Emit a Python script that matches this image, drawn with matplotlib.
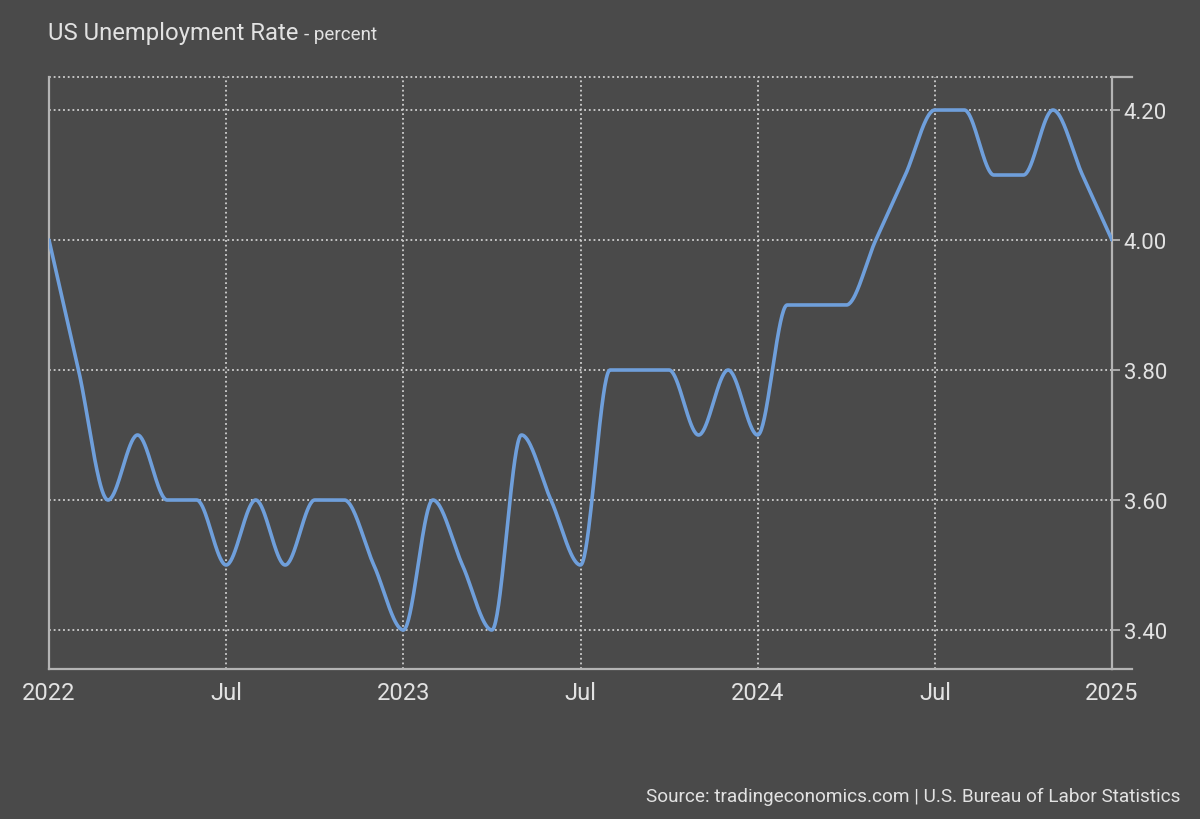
#US unemployment rate, monthly, smoothed line on dark background

import numpy as np
import matplotlib
matplotlib.use('Agg')
import matplotlib.pyplot as plt

# monthly values, Jan 2022 .. Jan 2025
rate_2022 = [4.0, 3.8, 3.6, 3.7, 3.6, 3.6, 3.5, 3.6, 3.5, 3.6, 3.6, 3.5]
rate_2023 = [3.4, 3.6, 3.5, 3.4, 3.7, 3.6, 3.5, 3.8, 3.8, 3.8, 3.7, 3.8]
rate_2024 = [3.7, 3.9, 3.9, 3.9, 4.0, 4.1, 4.2, 4.2, 4.1, 4.1, 4.2, 4.1]
rate_2025 = [4.0]
tick_months = [0, 6, 12, 18, 24, 30, 36]
tick_labels = ['2022', 'Jul', '2023', 'Jul', '2024', 'Jul', '2025']
y_ticks = [3.4, 3.6, 3.8, 4.0, 4.2]

rate = np.array(rate_2022 + rate_2023 + rate_2024 + rate_2025)
month = np.arange(len(rate), dtype=float)


#monotone cubic curve through the points (same idea as d3 curveMonotoneX)
def monotone_curve(x, y, n=40):
    h = np.diff(x)
    s = np.diff(y) / h
    m = np.zeros_like(y)
    for i in range(1, len(y) - 1):
        p = (s[i-1] * h[i] + s[i] * h[i-1]) / (h[i-1] + h[i])
        m[i] = (np.sign(s[i-1]) + np.sign(s[i])) * min(abs(s[i-1]), abs(s[i]), 0.5 * abs(p))
    m[0] = (3 * s[0] - m[1]) / 2
    m[-1] = (3 * s[-1] - m[-2]) / 2
    xs, ys = [], []
    for i in range(len(x) - 1):
        t = np.linspace(0, 1, n, endpoint=False)
        h00 = 2*t**3 - 3*t**2 + 1
        h10 = t**3 - 2*t**2 + t
        h01 = -2*t**3 + 3*t**2
        h11 = t**3 - t**2
        xs.append(x[i] + t * h[i])
        ys.append(h00*y[i] + h10*h[i]*m[i] + h01*y[i+1] + h11*h[i]*m[i+1])
    xs.append([x[-1]])
    ys.append([y[-1]])
    return np.concatenate(xs), np.concatenate(ys)


bg = '#4a4a4a'
txt = '#e2e2e2'
axis_col = '#b4b4b4'
grid_col = '#d0d0d0'

plt.rcParams['font.family'] = ['Roboto', 'DejaVu Sans']

fig = plt.figure(figsize=(12, 8.2), dpi=100, facecolor=bg)
ax = fig.add_axes([49/1200, 150/820, (1112-49)/1200, (670-78)/820], facecolor=bg)

cx, cy = monotone_curve(month, rate)
ax.plot(cx, cy, color='#6f9fdb', lw=2.6, solid_capstyle='round', zorder=3)

ax.set_xlim(0, 36)
ax.set_ylim(3.34, 4.2508)

ax.set_xticks(tick_months)
ax.set_xticklabels(tick_labels)
ax.set_yticks(y_ticks)
ax.set_yticklabels(['%.2f' % v for v in y_ticks])
ax.yaxis.tick_right()

ax.grid(True, color=grid_col, linestyle=(0, (1, 1.6)), linewidth=1.3)
ax.set_axisbelow(True)
# dotted line along the top edge
ax.axhline(4.2508, color=grid_col, linestyle=(0, (1, 1.6)), linewidth=1.3, clip_on=False)

ax.spines['top'].set_visible(False)
for side in ['left', 'right', 'bottom']:
    ax.spines[side].set_color(axis_col)
    ax.spines[side].set_linewidth(1.6)

ax.tick_params(axis='x', length=0, pad=9, labelsize=17, labelcolor=txt)
ax.tick_params(axis='y', length=6, width=1.3, color=axis_col, pad=2.5, labelsize=16, labelcolor=txt)

# longer end ticks to the right at the top and bottom
ax.plot([1, 1.019], [1, 1], transform=ax.transAxes, color=axis_col, lw=1.6, clip_on=False)
ax.plot([1, 1.019], [0, 0], transform=ax.transAxes, color=axis_col, lw=1.6, clip_on=False)

title = fig.text(48/1200, 1 - 40/820, 'US Unemployment Rate', color=txt, fontsize=17.2,
                 va='baseline', ha='left')
fig.canvas.draw()
bb = title.get_window_extent()
fig.text((bb.x1 + 6) / 1200, 1 - 40/820, '- percent', color=txt, fontsize=13.5,
         va='baseline', ha='left')
fig.text(1180/1200, 1 - 802/820, 'Source: tradingeconomics.com | U.S. Bureau of Labor Statistics',
         color=txt, fontsize=13.7, va='baseline', ha='right')

plt.savefig('out.png', dpi=100, facecolor=bg)
